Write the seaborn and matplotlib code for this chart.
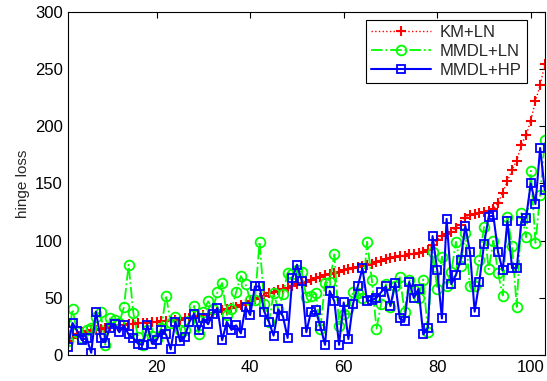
import numpy as np
import pandas as pd
import matplotlib
matplotlib.use("Agg")
import matplotlib.pyplot as plt
import seaborn as sns

# values, one per test case (1..103)
km_ln = [12, 15, 18, 20, 21, 22, 22, 23, 24, 25,
         25, 26, 26, 27, 27, 28, 28, 28, 29, 29,
         30, 30, 30, 31, 31, 32, 32, 33, 34, 35,
         36, 37, 38, 39, 40, 41, 42, 44, 45, 47,
         49, 50, 52, 54, 55, 57, 58, 59, 60, 62,
         63, 64, 66, 67, 68, 70, 71, 72, 73, 74,
         75, 76, 77, 78, 79, 80, 81, 82, 84, 85,
         86, 87, 87, 88, 88, 89, 90, 92, 96, 101,
         104, 106, 108, 111, 114, 120, 122, 123, 124, 125,
         126, 128, 133, 142, 152, 162, 170, 184, 192, 205,
         222, 236, 254]

mmdl_ln = [12, 40, 20, 15, 22, 24, 33, 38, 9, 32,
           31, 28, 42, 79, 37, 16, 9, 22, 17, 14,
           24, 52, 28, 33, 22, 22, 30, 43, 18, 38,
           47, 40, 55, 63, 35, 40, 55, 69, 62, 48,
           48, 99, 45, 29, 54, 40, 53, 72, 71, 74,
           73, 51, 52, 54, 23, 63, 64, 88, 25, 36,
           40, 55, 54, 50, 99, 66, 23, 45, 62, 42,
           60, 68, 38, 66, 57, 50, 66, 20, 90, 58,
           86, 60, 73, 99, 78, 107, 60, 60, 83, 112,
           75, 100, 72, 52, 121, 95, 42, 124, 103, 161,
           98, 140, 188]

mmdl_hp = [7, 28, 21, 13, 15, 2, 38, 15, 11, 24,
           27, 20, 26, 18, 15, 10, 9, 26, 10, 13,
           22, 18, 5, 29, 12, 16, 29, 36, 22, 32,
           27, 36, 41, 13, 29, 22, 26, 19, 42, 35,
           60, 60, 38, 29, 17, 40, 34, 15, 67, 79,
           65, 20, 38, 39, 25, 9, 56, 47, 9, 46,
           14, 45, 60, 76, 47, 48, 50, 55, 60, 43,
           63, 32, 30, 64, 50, 58, 18, 24, 104, 74,
           32, 119, 62, 70, 83, 113, 90, 38, 64, 97,
           121, 122, 90, 74, 117, 76, 76, 117, 120, 150,
           132, 181, 144]

idx = np.arange(1, len(km_ln) + 1)
df = pd.DataFrame({"case": idx, "KM+LN": km_ln, "MMDL+LN": mmdl_ln, "MMDL+HP": mmdl_hp})

sns.set_style("white")
plt.rcParams["font.family"] = ["Liberation Sans", "DejaVu Sans"]

fig = plt.figure(figsize=(5.47, 3.81), dpi=100)
ax = fig.add_axes([0.124, 0.068, 0.872, 0.901])

sns.lineplot(data=df, x="case", y="KM+LN", ax=ax, color="#ff0000", linestyle=":",
             linewidth=1.0, marker="+", markersize=7, markeredgecolor="#ff0000",
             markeredgewidth=1.5, label="KM+LN")
sns.lineplot(data=df, x="case", y="MMDL+LN", ax=ax, color="#00ff00", linestyle="-.",
             linewidth=1.3, marker="o", markersize=7, markerfacecolor="none",
             markeredgecolor="#00ff00", markeredgewidth=1.3, label="MMDL+LN")
sns.lineplot(data=df, x="case", y="MMDL+HP", ax=ax, color="#0000ff", linestyle="-",
             linewidth=1.5, marker="s", markersize=6, markerfacecolor="none",
             markeredgecolor="#0000ff", markeredgewidth=1.3, label="MMDL+HP")

ax.set_xlim(1, 103)
ax.set_ylim(0, 300)
ax.set_xticks([20, 40, 60, 80, 100])
ax.set_yticks([0, 50, 100, 150, 200, 250, 300])
ax.set_xlabel("")
ax.set_ylabel("hinge loss", fontsize=11)
ax.tick_params(direction="in", length=4, width=0.8, labelsize=12, top=True, right=True,
               colors="k")
for s in ax.spines.values():
    s.set_color("k")
    s.set_linewidth(0.8)

leg = ax.legend(loc="upper right", bbox_to_anchor=(0.962, 0.977), fontsize=12,
                fancybox=False, edgecolor="k", framealpha=1, borderaxespad=0,
                handlelength=3.6, labelspacing=0.25, borderpad=0.3, handletextpad=0.5)
leg.get_frame().set_linewidth(0.8)

fig.savefig("out.png", dpi=100)
